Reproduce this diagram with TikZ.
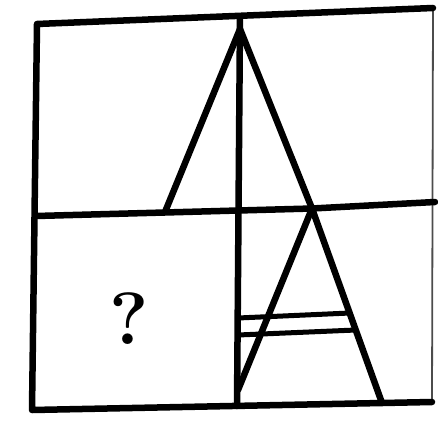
\documentclass[tikz,border=0pt]{standalone}
\begin{document}
\begin{tikzpicture}[x=1pt,y=-1pt,
  frame/.style={line width=6.5pt,line cap=round,line join=round},
  thinframe/.style={line width=1.8pt,black!70},
  bar/.style={line width=5pt,line cap=round}]
\useasboundingbox (0,0) rectangle (438,422);
% corners and key points
\coordinate (TL) at (37,24);
\coordinate (TR) at (433,8);
\coordinate (BL) at (32,410);
\coordinate (BR) at (432,402);
\coordinate (ML) at (36,216);
\coordinate (MR) at (435,202);
\coordinate (VT) at (240,18);
\coordinate (VB) at (237,406);
\coordinate (A) at (240,29);
\coordinate (LF) at (165,212);
\coordinate (B) at (312,208.5);
\coordinate (RF) at (382,403);
\coordinate (SF) at (238,390);
\coordinate (T1L) at (238,318);
\coordinate (T1R) at (350,313);
\coordinate (T2L) at (238,335);
\coordinate (T2R) at (356,330);
% outer frame
\draw[thinframe] (TR) -- (BR);
\draw[frame] (TR) -- (TL) -- (BL) -- (BR);
% grid lines
\draw[frame] (ML) -- (B) -- (MR);
\draw[frame] (VT) -- (VB);
% big A
\draw[frame] (LF) -- (A) -- (B) -- (RF);
% small A
\draw[frame] (B) -- (SF);
\draw[bar] (T1L) -- (T1R);
\draw[bar] (T2L) -- (T2R);
% question mark
\node (q) at (129,319) {\fontsize{74}{74}\selectfont\bfseries ?};
\end{tikzpicture}
\end{document}
